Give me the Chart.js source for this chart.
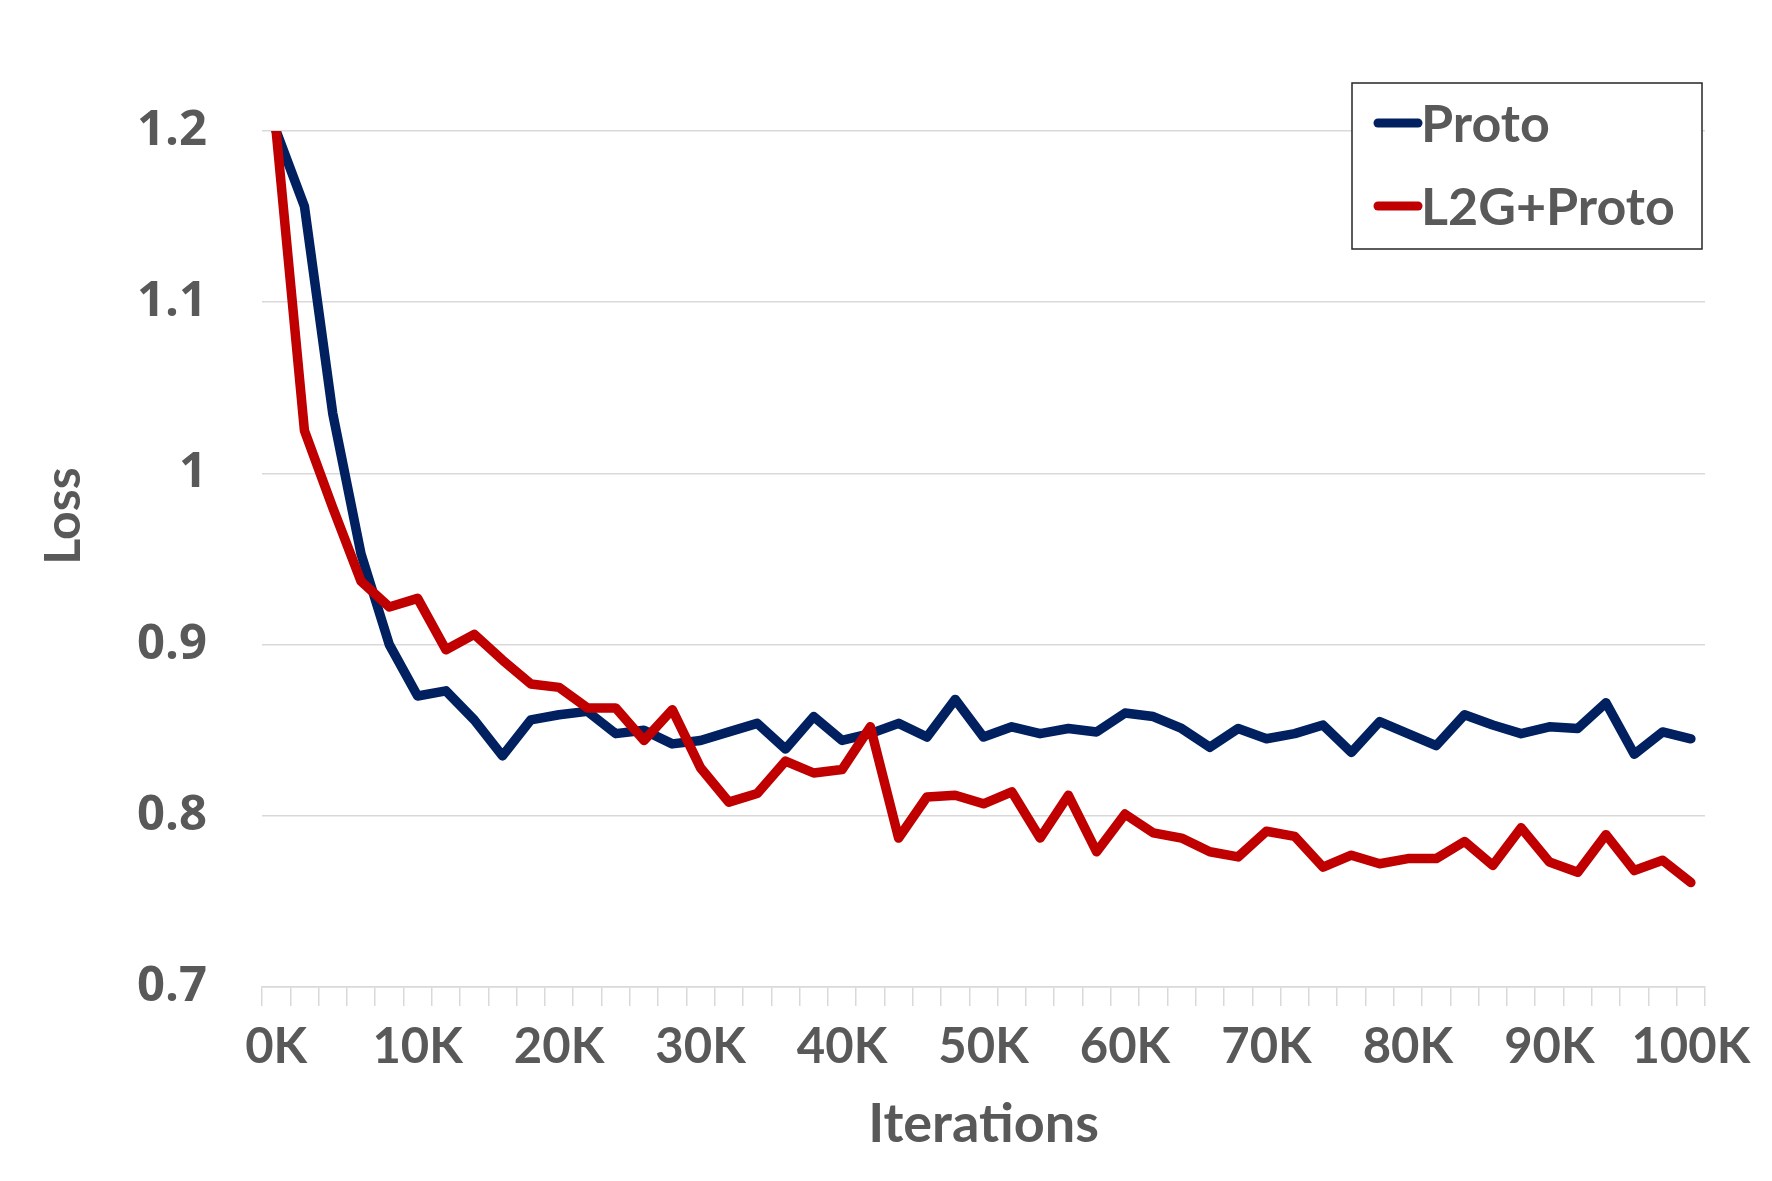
<!DOCTYPE html>
<html>
<head>
<meta charset="utf-8">
<title>Loss vs Iterations</title>
<script src="https://cdn.jsdelivr.net/npm/chart.js@4.4.1/dist/chart.umd.min.js"></script>
<style>
  html, body { margin: 0; padding: 0; background: #ffffff; }
  #wrap { width: 1772px; height: 1181px; }
</style>
</head>
<body>
<div id="wrap"><canvas id="lossChart" width="1772" height="1181"></canvas></div>
<script>
// iterations, one category every 2K
const iterations = ['0K', '2K', '4K', '6K', '8K', '10K', '12K', '14K', '16K', '18K',
  '20K', '22K', '24K', '26K', '28K', '30K', '32K', '34K', '36K', '38K',
  '40K', '42K', '44K', '46K', '48K', '50K', '52K', '54K', '56K', '58K',
  '60K', '62K', '64K', '66K', '68K', '70K', '72K', '74K', '76K', '78K',
  '80K', '82K', '84K', '86K', '88K', '90K', '92K', '94K', '96K', '98K', '100K'];

const protoLoss = [1.200, 1.156, 1.035, 0.953, 0.900, 0.870, 0.873, 0.856, 0.835, 0.856,
  0.859, 0.861, 0.848, 0.850, 0.842, 0.844, 0.849, 0.854, 0.839, 0.858,
  0.844, 0.848, 0.854, 0.846, 0.868, 0.846, 0.852, 0.848, 0.851, 0.849,
  0.860, 0.858, 0.851, 0.840, 0.851, 0.845, 0.848, 0.853, 0.837, 0.855,
  0.848, 0.841, 0.859, 0.853, 0.848, 0.852, 0.851, 0.866, 0.836, 0.849, 0.845];

const l2gLoss = [1.200, 1.025, 0.980, 0.937, 0.922, 0.927, 0.897, 0.906, 0.891, 0.877,
  0.875, 0.863, 0.863, 0.844, 0.862, 0.828, 0.808, 0.813, 0.832, 0.825,
  0.827, 0.852, 0.787, 0.811, 0.812, 0.807, 0.814, 0.787, 0.812, 0.779,
  0.801, 0.790, 0.787, 0.779, 0.776, 0.791, 0.788, 0.770, 0.777, 0.772,
  0.775, 0.775, 0.785, 0.771, 0.793, 0.773, 0.767, 0.789, 0.768, 0.774, 0.761];

const lossTicks = [0.7, 0.8, 0.9, 1.0, 1.1, 1.2];
const seriesNames = ['Proto', 'L2G+Proto'];

const textGrey = '#595959';
const gridGrey = '#d9d9d9';

// boxed legend in the top right corner, overlapping the 1.2 gridline
const boxLegend = {
  id: 'boxLegend',
  afterDraw(chart) {
    const c = chart.ctx;
    c.save();
    c.fillStyle = '#ffffff';
    c.fillRect(1352, 83, 350, 166);
    c.strokeStyle = '#262626';
    c.lineWidth = 1.5;
    c.strokeRect(1352, 83, 350, 166);
    c.font = 'bold 52px Lato';
    c.textBaseline = 'alphabetic';
    chart.data.datasets.forEach(function (ds, i) {
      const y = 123 + i * 83;
      c.strokeStyle = ds.borderColor;
      c.lineWidth = 9;
      c.lineCap = 'round';
      c.beginPath();
      c.moveTo(1378, y);
      c.lineTo(1418, y);
      c.stroke();
      c.fillStyle = textGrey;
      c.fillText(ds.label, 1421, y + 19);
    });
    c.restore();
  }
};

// rotated y axis title, sits a bit above the middle like the original
const lossTitle = {
  id: 'lossTitle',
  afterDraw(chart) {
    const c = chart.ctx;
    c.save();
    c.translate(64, 516);
    c.rotate(-Math.PI / 2);
    c.font = 'bold 50px Lato';
    c.fillStyle = textGrey;
    c.textAlign = 'center';
    c.textBaseline = 'middle';
    c.fillText('Loss', 0, 0);
    c.restore();
  }
};

function draw() {
  const ctx = document.getElementById('lossChart').getContext('2d');
  new Chart(ctx, {
    type: 'line',
    data: {
      labels: iterations,
      datasets: [{
        label: seriesNames[0],
        data: protoLoss,
        borderColor: '#002060',
        borderWidth: 9.5,
        pointRadius: 0,
        tension: 0,
        borderCapStyle: 'round',
        borderJoinStyle: 'round',
        order: 1
      }, {
        label: seriesNames[1],
        data: l2gLoss,
        borderColor: '#c00000',
        borderWidth: 9.5,
        pointRadius: 0,
        tension: 0,
        borderCapStyle: 'round',
        borderJoinStyle: 'round',
        order: 0
      }]
    },
    options: {
      responsive: false,
      animation: false,
      layout: { padding: { top: 131, right: 67, bottom: 0, left: 0 } },
      plugins: {
        legend: { display: false },
        tooltip: { enabled: false }
      },
      scales: {
        x: {
          type: 'category',
          offset: true,
          afterFit: function (scale) { scale.height = 194; },
          grid: {
            offset: true,
            drawOnChartArea: false,
            drawTicks: true,
            tickLength: 19,
            color: gridGrey,
            lineWidth: 1.5
          },
          border: { display: true, color: gridGrey, width: 1.5 },
          ticks: {
            autoSkip: false,
            maxRotation: 0,
            padding: 12,
            color: textGrey,
            font: { family: 'Lato', size: 49, weight: 'bold' },
            callback: function (value, index) {
              return index % 5 === 0 ? this.getLabelForValue(value) : '';
            }
          },
          title: {
            display: true,
            text: 'Iterations',
            color: textGrey,
            font: { family: 'Lato', size: 54, weight: 'bold' },
            padding: { top: 0, bottom: 24 }
          }
        },
        y: {
          min: lossTicks[0],
          max: lossTicks[lossTicks.length - 1],
          afterFit: function (scale) { scale.width = 262; },
          afterBuildTicks: function (scale) {
            scale.ticks = lossTicks.map(function (v) { return { value: v }; });
          },
          grid: { color: gridGrey, lineWidth: 1.5, drawTicks: false },
          border: { display: false },
          ticks: {
            padding: 55,
            color: textGrey,
            font: { family: 'Open Sans', size: 49, weight: 'bold' },
            callback: function (value) { return String(Math.round(value * 10) / 10); }
          }
        }
      }
    },
    plugins: [boxLegend, lossTitle]
  });
}

Promise.all([
  document.fonts.load('bold 47px Lato'),
  document.fonts.load('bold 49px "Open Sans"')
]).then(draw, draw);
</script>
</body>
</html>
